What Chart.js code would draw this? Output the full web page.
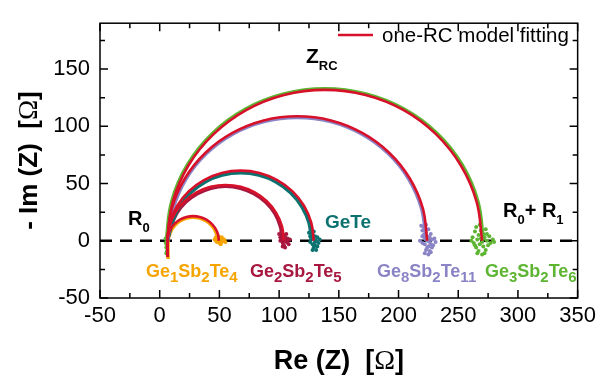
<!DOCTYPE html>
<html>
<head>
<meta charset="utf-8">
<script src="https://cdn.jsdelivr.net/npm/chart.js@4/dist/chart.umd.min.js"></script>
<style>
  html, body { margin: 0; padding: 0; background: #fff; }
  #wrap { width: 601px; height: 382px; }
</style>
</head>
<body>
<div id="wrap"><canvas id="nyquist" width="601" height="382"></canvas></div>
<script>
// --- DATA ---
const xTicks = [-50, 0, 50, 100, 150, 200, 250, 300, 350];
const yTicks = [-50, 0, 50, 100, 150];

// measured spectra (the coloured bands)
const dataOrange  = [[7,-16],[7,0],[8.2,5.3],[10.25,10.25],[13.5,14.5],[17.75,17.75],[22.7,19.8],[28,20.5],[33.3,19.8],[38.25,17.75],[42.5,14.5],[45.75,10.25],[47.8,5.3],[48.5,0]];
const dataCrimson = [[6.5,0],[9.35,12.3],[14.15,23.75],[21.65,33.6],[31.5,41.1],[43,45.9],[55.25,47.5],[67.55,45.9],[79,41.1],[88.85,33.6],[96.5,23.75],[101.15,12.3],[103,0]];
const dataTeal    = [[6.5,0],[10.45,15.4],[16.4,29.65],[25.85,41.9],[38.1,51.4],[52.4,57.3],[67.75,59.3],[83.1,57.3],[97.4,51.4],[109.65,41.9],[119.1,29.65],[125.1,15.4],[127,0]];
const dataPurple  = [[6.5,0],[11.15,27.9],[21.95,53.9],[39.05,76.2],[61.35,93.3],[87.35,104.1],[115.25,107.75],[143.15,104.1],[169.15,93.3],[191.45,76.2],[208.55,53.9],[219.35,27.9],[223,0]];
const dataGreen   = [[5.5,0],[10.05,34.4],[23.25,66.4],[44.35,93.9],[71.9,115],[103.85,128.2],[138.25,132.75],[172.65,128.2],[204.6,115],[232.15,93.9],[253.25,66.4],[266.45,34.4],[271,0]];

// low-frequency end clusters
const endOrange  = [[46,1],[47,3],[48,-1],[49,2],[50,0],[50,-2],[51,1],[52,3],[49,4],[51,-3],[53,0],[54,1],[48,0],[50,3],[55,-1],[52,-1],[47,0]];
const endCrimson = [[100,6],[101,3],[102,8],[103,-2],[103,2],[104,5],[104,-4],[105,0],[105,3],[106,-1],[106,6],[107,2],[108,-3],[109,1],[103,-5],[101,0],[104,1],[105,-6],[102,4],[107,-1]];
const endTeal    = [[125,7],[126,4],[127,9],[127,1],[128,-3],[128,5],[129,-6],[129,2],[130,-1],[130,4],[131,-8],[131,0],[132,3],[133,-2],[134,1],[126,-1],[129,8],[130,-4],[128,-8],[132,-5]];
const endPurple  = [[219,13],[220,9],[221,5],[221,12],[222,-3],[222,2],[223,7],[223,-8],[224,0],[224,4],[225,-5],[225,10],[226,-1],[226,3],[227,-10],[227,6],[228,1],[229,-4],[230,2],[218,0],[220,-2],[222,-11],[224,-6],[226,-9],[228,-6],[231,-1],[223,14],[225,-12],[220,4],[227,-3]];
const endGreen   = [[262,3],[263,-2],[264,8],[265,12],[265,-6],[266,1],[267,5],[267,-9],[268,14],[268,-3],[269,2],[269,9],[270,-1],[270,-12],[271,6],[271,-5],[272,3],[273,-8],[273,10],[274,0],[275,-4],[276,4],[277,-2],[279,1],[280,-1],[266,-11],[272,-11],[261,0],[264,-4],[274,6]];
const startGreen = [[5,-2],[5.5,-6],[6,-9],[5,2],[6,-4],[5.5,-11]];

// one-RC model fits (red)
const fitOrange  = [[6.5,-14],[6.5,0],[7.2,5.6],[9.4,10.75],[12.8,15.2],[17.25,18.6],[22.4,20.8],[28,21.5],[33.6,20.8],[38.75,18.6],[43.2,15.2],[46.6,10.75],[48.8,5.6],[49.5,0]];
const fitCrimson = [[6.5,-14],[6.5,0],[8.15,12.6],[13,24.4],[20.8,34.5],[30.9,42.2],[42.6,47.1],[55.25,48.75],[67.9,47.1],[79.6,42.2],[89.7,34.5],[97.5,24.4],[102.4,12.6],[104,0]];
const fitTeal    = [[6.5,-14],[6.5,0],[8.55,15.9],[14.7,30.6],[24.45,43.3],[37.1,53],[51.9,59.2],[67.75,61.25],[83.6,59.2],[98.4,53],[111.05,43.3],[120.8,30.6],[126.9,15.9],[129,0]];
const fitPurple  = [[6.5,-14],[6.5,0],[10.15,28.2],[21.05,54.4],[38.35,76.9],[60.9,94.2],[87.1,105.1],[115.25,108.75],[143.4,105.1],[169.6,94.2],[192.15,76.9],[209.45,54.4],[220.35,28.2],[224,0]];
const fitGreen   = [[6.5,-14],[6.5,0],[11,34.1],[24.15,65.9],[45.15,93.1],[72.4,114.1],[104.15,127.3],[138.25,131.75],[172.35,127.3],[204.35,114.1],[231.35,93.1],[252.1,65.9],[265.35,34.1],[270,0]];

const zeroLine = [[-50,0],[350,0]];

// --- STYLE ---
const C = { orange: '#F5A400', crimson: '#A8173F', teal: '#0B7270', purple: '#8A84C6', green: '#5DB532', fit: '#D8112B' };
const SANS = '"Liberation Sans", Arial, sans-serif';

const pts = a => a.map(p => ({ x: p[0], y: p[1] }));
const band = (d, c) => ({ data: pts(d), showLine: true, borderColor: c, borderWidth: 3.5, pointRadius: 0, tension: 0.4, order: 4 });
const dots = (d, c) => ({ data: pts(d), showLine: false, backgroundColor: c, borderWidth: 0, pointRadius: 2, order: 5 });
const fit = d => ({ data: pts(d), showLine: true, borderColor: C.fit, borderWidth: 2.6, pointRadius: 0, tension: 0.4, order: 1 });

// rich text: parts = [[text, font, dy]]
function rich(ctx, x, y, parts, color) {
    ctx.fillStyle = color;
    ctx.textBaseline = 'alphabetic'; ctx.textAlign = 'left';
    parts.forEach(([t, f, dy]) => { ctx.font = f; ctx.fillText(t, x, y + (dy || 0)); x += ctx.measureText(t).width; });
}
function richWidth(ctx, parts) {
    return parts.reduce((w, [t, f]) => { ctx.font = f; return w + ctx.measureText(t).width; }, 0);
}

const B18 = 'bold 18px ' + SANS, S15 = 'bold 15px ' + SANS;
const B20 = 'bold 20px ' + SANS, S13 = 'bold 13px ' + SANS;
function formula(parts) { return parts.map((t, i) => i % 2 ? [t, S15, 5] : [t, B18, 0]); }

const decor = {
    id: 'decor',
    afterDraw(chart) {
        const ctx = chart.ctx, a = chart.chartArea, sx = chart.scales.x, sy = chart.scales.y;
        ctx.save();
        // frame
        ctx.strokeStyle = '#000'; ctx.lineWidth = 1.5;
        ctx.strokeRect(a.left, a.top, a.right - a.left, a.bottom - a.top);
        // inward ticks on all four sides
        ctx.beginPath();
        for (let v = -50; v <= 350; v += 25) {
            const px = sx.getPixelForValue(v), len = v % 50 === 0 ? 8 : 5;
            ctx.moveTo(px, a.bottom); ctx.lineTo(px, a.bottom - len);
            ctx.moveTo(px, a.top); ctx.lineTo(px, a.top + len);
        }
        for (let v = -50; v <= 175; v += 25) {
            const py = sy.getPixelForValue(v), len = v % 50 === 0 ? 8 : 5;
            ctx.moveTo(a.left, py); ctx.lineTo(a.left + len, py);
            ctx.moveTo(a.right, py); ctx.lineTo(a.right - len, py);
        }
        ctx.stroke();

        // legend
        ctx.strokeStyle = C.fit; ctx.lineWidth = 2.6;
        ctx.beginPath(); ctx.moveTo(338, 35); ctx.lineTo(373, 35); ctx.stroke();
        rich(ctx, 382, 42, [['one-RC model fitting', '20.5px ' + SANS]], '#000');

        // annotations
        rich(ctx, 306, 63, [['Z', 'bold 21px ' + SANS], ['RC', S13, 7]], '#000');
        rich(ctx, 128, 225, [['R', B20], ['0', S13, 7]], '#000');
        rich(ctx, 503, 217, [['R', B20], ['0', S13, 7], ['+ ', B20], ['R', B20], ['1', S13, 7]], '#000');
        rich(ctx, 325, 228, [['GeTe', 'bold 19px ' + SANS]], C.teal);
        rich(ctx, 146, 277, formula(['Ge', '1', 'Sb', '2', 'Te', '4']), C.orange);
        rich(ctx, 250, 277, formula(['Ge', '2', 'Sb', '2', 'Te', '5']), C.crimson);
        rich(ctx, 377, 277, formula(['Ge', '8', 'Sb', '2', 'Te', '11']), C.purple);
        rich(ctx, 485, 277, formula(['Ge', '3', 'Sb', '2', 'Te', '6']), C.green);

        // axis titles
        const xt = [['Re (Z)  [', 'bold 27px ' + SANS], ['Ω', '28px "Liberation Serif", serif'], [']', 'bold 27px ' + SANS]];
        const cx = (a.left + a.right) / 2;
        rich(ctx, cx - richWidth(ctx, xt) / 2, 369, xt, '#000');
        const yt = [['- Im (Z)  [', 'bold 26px ' + SANS], ['Ω', '27px "Liberation Serif", serif'], [']', 'bold 26px ' + SANS]];
        ctx.translate(37, (a.top + a.bottom) / 2);
        ctx.rotate(-Math.PI / 2);
        rich(ctx, -richWidth(ctx, yt) / 2, 0, yt, '#000');
        ctx.restore();
    }
};

new Chart(document.getElementById('nyquist'), {
    type: 'scatter',
    data: {
        datasets: [
            { data: pts(zeroLine), showLine: true, borderColor: '#000', borderWidth: 2.5, borderDash: [12, 8], pointRadius: 0, order: 10 },
            band(dataGreen, C.green), band(dataPurple, C.purple), band(dataTeal, C.teal), band(dataCrimson, C.crimson), band(dataOrange, C.orange),
            dots(endGreen, C.green), dots(endPurple, C.purple), dots(endTeal, C.teal), dots(endCrimson, C.crimson), dots(endOrange, C.orange), dots(startGreen, C.green),
            fit(fitGreen), fit(fitPurple), fit(fitTeal), fit(fitCrimson), fit(fitOrange)
        ]
    },
    options: {
        responsive: false, animation: false, devicePixelRatio: 1,
        layout: { padding: { top: 9, right: 20, left: 0, bottom: 0 } },
        plugins: { legend: { display: false }, tooltip: { enabled: false } },
        scales: {
            x: {
                type: 'linear', min: -50, max: 350,
                afterBuildTicks: s => { s.ticks = xTicks.map(v => ({ value: v })); },
                afterFit: s => { s.height = 84; },
                ticks: { font: { family: SANS, size: 22 }, color: '#000', padding: 5, maxRotation: 0 },
                grid: { display: false, drawTicks: false }, border: { display: false }
            },
            y: {
                type: 'linear', min: -50, max: 190,
                afterBuildTicks: s => { s.ticks = yTicks.map(v => ({ value: v })); },
                afterFit: s => { s.width = 100; },
                ticks: { font: { family: SANS, size: 22 }, color: '#000', padding: 10 },
                grid: { display: false, drawTicks: false }, border: { display: false }
            }
        }
    },
    plugins: [decor]
});
</script>
</body>
</html>
